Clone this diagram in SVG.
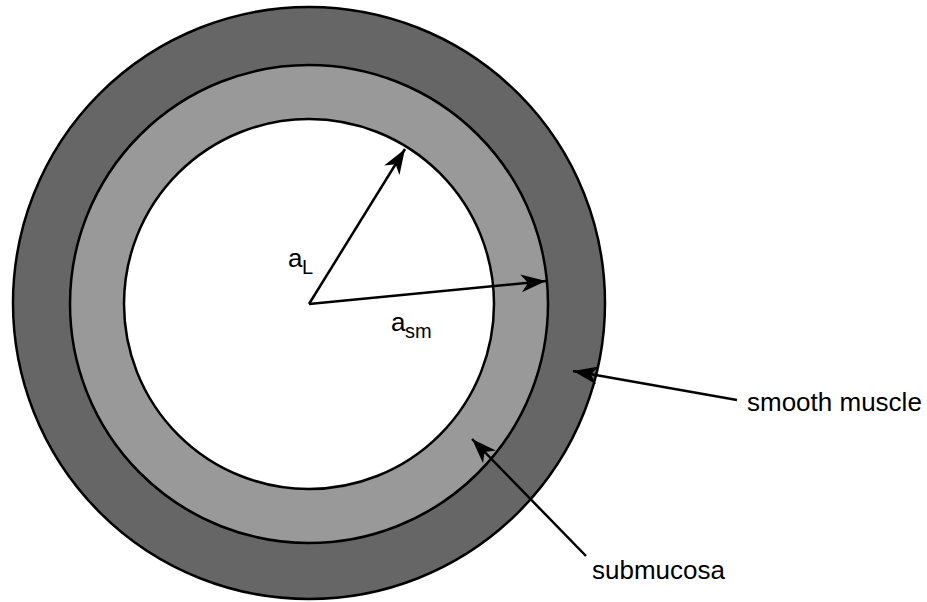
<svg xmlns="http://www.w3.org/2000/svg" width="927" height="602" viewBox="0 0 927 602">
<style>
.ring{stroke:#000;stroke-width:2.5}
.lbl{font-family:"Liberation Sans",Arial,sans-serif;font-size:26px;fill:#000}
.sub{font-size:20px}
.conn{stroke:#000;stroke-width:2.5;fill:none;marker-end:url(#ah)}
</style>
<defs>
<marker id="ah" viewBox="-27 -11 29 22" markerWidth="29" markerHeight="22" refX="0" refY="0" orient="auto" markerUnits="userSpaceOnUse">
<path d="M0,0 L-25,-9 L-18,0 L-25,9 Z" fill="#000"/>
</marker>
</defs>
<rect width="927" height="602" fill="#fff"/>
<g id="smooth-muscle"><circle class="ring" cx="309" cy="303" r="296" fill="#666666"/></g>
<g id="submucosa"><circle class="ring" cx="309" cy="304" r="239" fill="#999999"/></g>
<g id="lumen"><circle class="ring" cx="309" cy="304" r="185" fill="#ffffff"/></g>
<g id="connectors">
<line class="conn" x1="309" y1="304" x2="405" y2="149"/>
<line class="conn" x1="309" y1="304" x2="546" y2="281"/>
<line class="conn" x1="737" y1="400" x2="573" y2="371"/>
<line class="conn" x1="586" y1="556" x2="472" y2="439"/>
</g>
<g id="label-aL"><text class="lbl" x="288" y="267">a<tspan class="sub" x="302" y="274">L</tspan></text></g>
<g id="label-asm"><text class="lbl" x="391" y="331">a<tspan class="sub" x="405" y="338">sm</tspan></text></g>
<g id="label-smooth-muscle"><text class="lbl" x="747" y="411">smooth muscle</text></g>
<g id="label-submucosa"><text class="lbl" x="592" y="579">submucosa</text></g>
</svg>
